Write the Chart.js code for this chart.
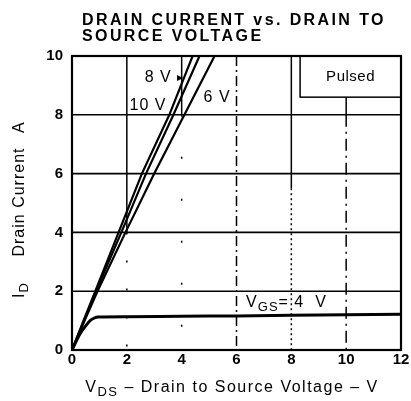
<!DOCTYPE html>
<html>
<head>
<meta charset="utf-8">
<script src="https://cdn.jsdelivr.net/npm/chart.js@4.4.1/dist/chart.umd.min.js"></script>
<style>
  body { margin: 0; background: #fff; }
  #wrap { width: 411px; height: 401px; }
</style>
</head>
<body>
<div id="wrap"><canvas id="chart" width="411" height="401"></canvas></div>
<script>
// curves (VDS in V, ID in A)
const vds10 = [0, 0.42, 0.85, 1.7, 2.55, 3.55, 4.4];
const id10 = [0, 1, 2, 4, 6, 8, 10];
const vds8 = [0, 0.44, 0.88, 1.8, 2.7, 3.7, 4.65];
const id8 = [0, 1, 2, 4, 6, 8, 10];
const vds6 = [0, 0.46, 0.93, 1.95, 3.0, 4.1, 5.2];
const id6 = [0, 1, 2, 4, 6, 8, 10];
const vds4 = [0, 0.3, 0.5, 0.66, 0.8, 0.95, 2, 4, 6, 8, 10, 12];
const id4 = [0, 0.56, 0.82, 1.0, 1.08, 1.12, 1.13, 1.15, 1.16, 1.18, 1.2, 1.22];

const xTicks = [0, 2, 4, 6, 8, 10, 12];
const yTicks = [0, 2, 4, 6, 8, 10];

const toPts = (xs, ys) => xs.map((x, i) => ({ x: x, y: ys[i] }));

// text with subscript pieces: [text, isSub]
function drawRich(ctx, parts, x, y, size) {
    let cx = x;
    parts.forEach(p => {
        ctx.font = (p[1] ? size - 3 : size) + 'px Arial';
        ctx.fillText(p[0], cx, y + (p[1] ? 4 : 0));
        cx += ctx.measureText(p[0]).width;
    });
    return cx - x;
}
function richWidth(ctx, parts, size) {
    let w = 0;
    parts.forEach(p => {
        ctx.font = (p[1] ? size - 3 : size) + 'px Arial';
        w += ctx.measureText(p[0]).width;
    });
    return w;
}

const sheetPlugin = {
    id: 'sheet',
    beforeDatasetsDraw(chart) {
        const ctx = chart.ctx;
        const xs = chart.scales.x, ys = chart.scales.y;
        const a = chart.chartArea;
        ctx.save();
        ctx.strokeStyle = '#000';
        // horizontal grid
        ctx.lineWidth = 1.6;
        [2, 4, 6, 8].forEach(v => {
            const py = ys.getPixelForValue(v);
            ctx.beginPath(); ctx.moveTo(a.left, py); ctx.lineTo(a.right, py); ctx.stroke();
        });
        // vertical grid, mixed styles like the scan
        const segs = [
            { x: 2, y0: 4, y1: 10, dash: [] },
            { x: 2, y0: 0, y1: 4, dash: [2, 26] },
            { x: 4, y0: 8, y1: 10, dash: [] },
            { x: 4, y0: 0, y1: 8, dash: [2, 40] },
            { x: 6, y0: 0, y1: 10, dash: [10, 4, 2, 4] },
            { x: 8, y0: 5.5, y1: 10, dash: [] },
            { x: 8, y0: 0, y1: 5.5, dash: [2, 3] },
            { x: 10, y0: 8, y1: 8.6, dash: [] },
            { x: 10, y0: 0, y1: 8, dash: [12, 5, 2, 5] }
        ];
        ctx.lineWidth = 1.5;
        segs.forEach(s => {
            const px = xs.getPixelForValue(s.x);
            ctx.setLineDash(s.dash);
            ctx.beginPath();
            ctx.moveTo(px, ys.getPixelForValue(s.y1));
            ctx.lineTo(px, ys.getPixelForValue(s.y0));
            ctx.stroke();
        });
        ctx.setLineDash([]);
        // "Pulsed" box
        const bx = xs.getPixelForValue(8.32), by = ys.getPixelForValue(8.6);
        ctx.fillStyle = '#fff';
        ctx.fillRect(bx, a.top, a.right - bx, by - a.top);
        ctx.lineWidth = 1.5;
        ctx.strokeRect(bx, a.top, a.right - bx, by - a.top);
        ctx.fillStyle = '#000';
        ctx.font = '15px Arial';
        ctx.letterSpacing = '0.5px';
        ctx.textAlign = 'center';
        ctx.textBaseline = 'middle';
        ctx.fillText('Pulsed', (bx + a.right) / 2, (a.top + by) / 2);
        ctx.restore();
    },
    afterDatasetsDraw(chart) {
        const ctx = chart.ctx;
        const xs = chart.scales.x, ys = chart.scales.y;
        const a = chart.chartArea;
        ctx.save();
        // frame
        ctx.strokeStyle = '#000';
        ctx.lineWidth = 2.2;
        ctx.strokeRect(a.left, a.top, a.right - a.left, a.bottom - a.top);

        ctx.fillStyle = '#000';
        ctx.textBaseline = 'alphabetic';
        ctx.textAlign = 'left';
        ctx.letterSpacing = '1px';
        ctx.font = '16px Arial';
        ctx.fillText('8 V', xs.getPixelForValue(2.65), ys.getPixelForValue(9.1));
        ctx.fillText('10 V', xs.getPixelForValue(2.1), ys.getPixelForValue(8.18));
        ctx.fillText('6 V', xs.getPixelForValue(4.8), ys.getPixelForValue(8.45));
        // little arrow from "8 V" to its curve
        const ax = xs.getPixelForValue(4.05), ay = ys.getPixelForValue(9.25);
        ctx.beginPath();
        ctx.moveTo(ax, ay); ctx.lineTo(ax - 6, ay - 3); ctx.lineTo(ax - 6, ay + 3); ctx.closePath();
        ctx.fill();
        drawRich(ctx, [['V', false], ['GS', true], ['= 4  V', false]],
            xs.getPixelForValue(6.35), ys.getPixelForValue(1.45), 16);

        // title
        ctx.font = 'bold 16px Arial';
        ctx.letterSpacing = '2.4px';
        ctx.fillText('DRAIN CURRENT vs. DRAIN TO', 82, 25);
        ctx.fillText('SOURCE VOLTAGE', 82, 41);

        // x axis title
        ctx.letterSpacing = '1.5px';
        const xParts = [['V', false], ['DS', true], [' \u2013 Drain to Source Voltage \u2013 V', false]];
        const xw = richWidth(ctx, xParts, 16);
        drawRich(ctx, xParts, 232 - xw / 2, 392, 16);

        // y axis title, rotated
        ctx.translate(24, 0);
        ctx.rotate(-Math.PI / 2);
        ctx.letterSpacing = '1px';
        drawRich(ctx, [['I', false], ['D', true]], -298, 0, 16);
        const dw = richWidth(ctx, [['Drain Current', false]], 16);
        drawRich(ctx, [['Drain Current', false]], -202 - dw / 2, 0, 16);
        drawRich(ctx, [['A', false]], -133, 0, 16);
        ctx.restore();
    }
};

const lineStyle = (w) => ({
    borderColor: '#000', borderWidth: w, pointRadius: 0, fill: false
});

new Chart(document.getElementById('chart'), {
    type: 'line',
    data: {
        datasets: [
            Object.assign({ label: '10 V', data: toPts(vds10, id10) }, lineStyle(2.2)),
            Object.assign({ label: '8 V', data: toPts(vds8, id8) }, lineStyle(2.2)),
            Object.assign({ label: '6 V', data: toPts(vds6, id6) }, lineStyle(2.2)),
            Object.assign({ label: '4 V', data: toPts(vds4, id4), cubicInterpolationMode: 'monotone' }, lineStyle(3))
        ]
    },
    options: {
        responsive: false,
        animation: false,
        layout: { padding: { top: 56, right: 10, left: 0, bottom: 0 } },
        plugins: { legend: { display: false }, tooltip: { enabled: false }, title: { display: false } },
        scales: {
            x: {
                type: 'linear', min: 0, max: 12,
                afterBuildTicks: s => { s.ticks = xTicks.map(v => ({ value: v })); },
                afterFit: s => { s.height = 51; },
                grid: { display: false, drawTicks: false },
                border: { display: false },
                ticks: { color: '#000', font: { family: 'Arial', size: 15, weight: 'bold' }, padding: 1, maxRotation: 0 }
            },
            y: {
                min: 0, max: 10,
                afterBuildTicks: s => { s.ticks = yTicks.map(v => ({ value: v })); },
                afterFit: s => { s.width = 72; },
                grid: { display: false, drawTicks: false },
                border: { display: false },
                ticks: { color: '#000', font: { family: 'Arial', size: 15, weight: 'bold' }, padding: 9 }
            }
        }
    },
    plugins: [sheetPlugin]
});
</script>
</body>
</html>
